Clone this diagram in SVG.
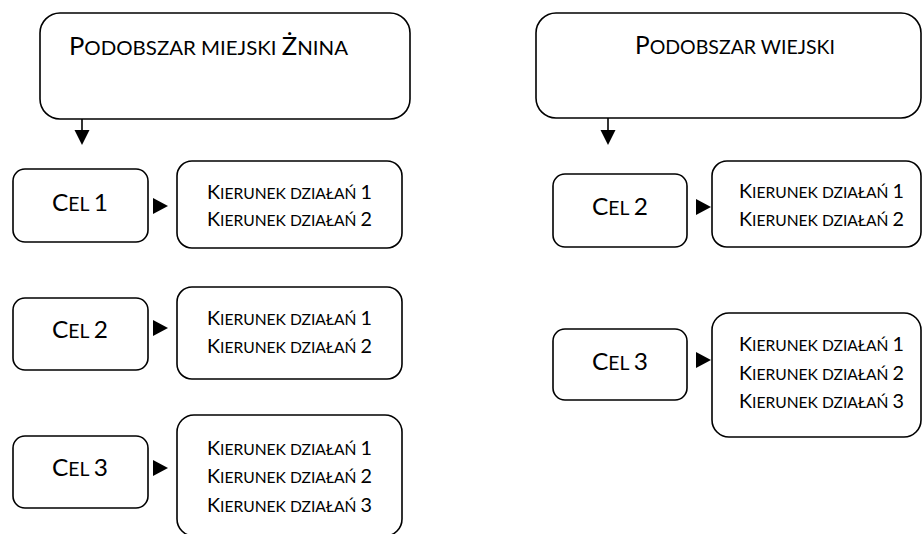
<svg xmlns="http://www.w3.org/2000/svg" width="923" height="534" viewBox="0 0 923 534">
<style>
  .box { fill: #ffffff; stroke: #000000; stroke-width: 1.6; }
  .t { font-family: Lato, "Open Sans", "Liberation Sans", sans-serif; fill: #000000; }
  .title { font-size: 25px; }
  .title .s { font-size: 20px; }
  .cel { font-size: 24px; }
  .cel .s { font-size: 19px; }
  .kd { font-size: 20px; }
  .kd .s { font-size: 15.8px; }
  .conn line { stroke: #000000; stroke-width: 1.6; }
  .conn polygon { fill: #000000; }
</style>
<rect width="923" height="534" fill="#ffffff"/>

<g id="podobszar-miejski">
  <rect class="box" x="40" y="13" width="370" height="106" rx="20"/>
  <text class="t title" x="69" y="55" textLength="279" lengthAdjust="spacingAndGlyphs">P<tspan class="s">ODOBSZAR MIEJSKI </tspan>Ż<tspan class="s">NINA</tspan></text>
</g>
<g id="podobszar-wiejski">
  <rect class="box" x="536" y="13" width="385" height="105" rx="20"/>
  <text class="t title" x="635" y="54" textLength="200" lengthAdjust="spacingAndGlyphs">P<tspan class="s">ODOBSZAR WIEJSKI</tspan></text>
</g>

<g id="m-cel1">
  <rect class="box" x="13" y="169" width="135" height="73" rx="12"/>
  <text class="t cel" x="52" y="211" textLength="56" lengthAdjust="spacingAndGlyphs">C<tspan class="s">EL </tspan>1</text>
</g>
<g id="m-kd1">
  <rect class="box" x="177" y="161" width="225" height="87" rx="15"/>
  <text class="t kd" x="207" y="199" textLength="165" lengthAdjust="spacingAndGlyphs">K<tspan class="s">IERUNEK DZIAŁAŃ </tspan>1</text>
  <text class="t kd" x="207" y="226" textLength="165" lengthAdjust="spacingAndGlyphs">K<tspan class="s">IERUNEK DZIAŁAŃ </tspan>2</text>
</g>
<g id="m-cel2">
  <rect class="box" x="13" y="298" width="135" height="72" rx="12"/>
  <text class="t cel" x="52" y="338" textLength="56" lengthAdjust="spacingAndGlyphs">C<tspan class="s">EL </tspan>2</text>
</g>
<g id="m-kd2">
  <rect class="box" x="177" y="287" width="225" height="92" rx="15"/>
  <text class="t kd" x="207" y="325" textLength="165" lengthAdjust="spacingAndGlyphs">K<tspan class="s">IERUNEK DZIAŁAŃ </tspan>1</text>
  <text class="t kd" x="207" y="353" textLength="165" lengthAdjust="spacingAndGlyphs">K<tspan class="s">IERUNEK DZIAŁAŃ </tspan>2</text>
</g>
<g id="m-cel3">
  <rect class="box" x="13" y="436" width="135" height="72" rx="12"/>
  <text class="t cel" x="52" y="476" textLength="56" lengthAdjust="spacingAndGlyphs">C<tspan class="s">EL </tspan>3</text>
</g>
<g id="m-kd3">
  <rect class="box" x="177" y="415" width="225" height="121" rx="17"/>
  <text class="t kd" x="207" y="455" textLength="165" lengthAdjust="spacingAndGlyphs">K<tspan class="s">IERUNEK DZIAŁAŃ </tspan>1</text>
  <text class="t kd" x="207" y="483" textLength="165" lengthAdjust="spacingAndGlyphs">K<tspan class="s">IERUNEK DZIAŁAŃ </tspan>2</text>
  <text class="t kd" x="207" y="512" textLength="165" lengthAdjust="spacingAndGlyphs">K<tspan class="s">IERUNEK DZIAŁAŃ </tspan>3</text>
</g>

<g id="w-cel2">
  <rect class="box" x="553" y="174" width="134" height="73" rx="12"/>
  <text class="t cel" x="592" y="215" textLength="56" lengthAdjust="spacingAndGlyphs">C<tspan class="s">EL </tspan>2</text>
</g>
<g id="w-kd2">
  <rect class="box" x="712" y="161" width="209" height="86" rx="15"/>
  <text class="t kd" x="739" y="198" textLength="165" lengthAdjust="spacingAndGlyphs">K<tspan class="s">IERUNEK DZIAŁAŃ </tspan>1</text>
  <text class="t kd" x="739" y="226" textLength="165" lengthAdjust="spacingAndGlyphs">K<tspan class="s">IERUNEK DZIAŁAŃ </tspan>2</text>
</g>
<g id="w-cel3">
  <rect class="box" x="553" y="329" width="134" height="71" rx="12"/>
  <text class="t cel" x="592" y="370" textLength="56" lengthAdjust="spacingAndGlyphs">C<tspan class="s">EL </tspan>3</text>
</g>
<g id="w-kd3">
  <rect class="box" x="712" y="313" width="209" height="124" rx="17"/>
  <text class="t kd" x="739" y="351" textLength="165" lengthAdjust="spacingAndGlyphs">K<tspan class="s">IERUNEK DZIAŁAŃ </tspan>1</text>
  <text class="t kd" x="739" y="380" textLength="165" lengthAdjust="spacingAndGlyphs">K<tspan class="s">IERUNEK DZIAŁAŃ </tspan>2</text>
  <text class="t kd" x="739" y="408" textLength="165" lengthAdjust="spacingAndGlyphs">K<tspan class="s">IERUNEK DZIAŁAŃ </tspan>3</text>
</g>

<g id="connectors" class="conn">
  <line x1="82" y1="119" x2="82" y2="131"/>
  <polygon points="74.5,130 89.5,130 82,145"/>
  <line x1="608" y1="118" x2="608" y2="131"/>
  <polygon points="600.5,130 615.5,130 608,145"/>
  <polygon points="153,198 153,214 168,206"/>
  <polygon points="153,320 153,336 168,328"/>
  <polygon points="153,460 153,476 168,468"/>
  <polygon points="696,199 696,215 711,207"/>
  <polygon points="696,352 696,368 711,360"/>
</g>
</svg>
